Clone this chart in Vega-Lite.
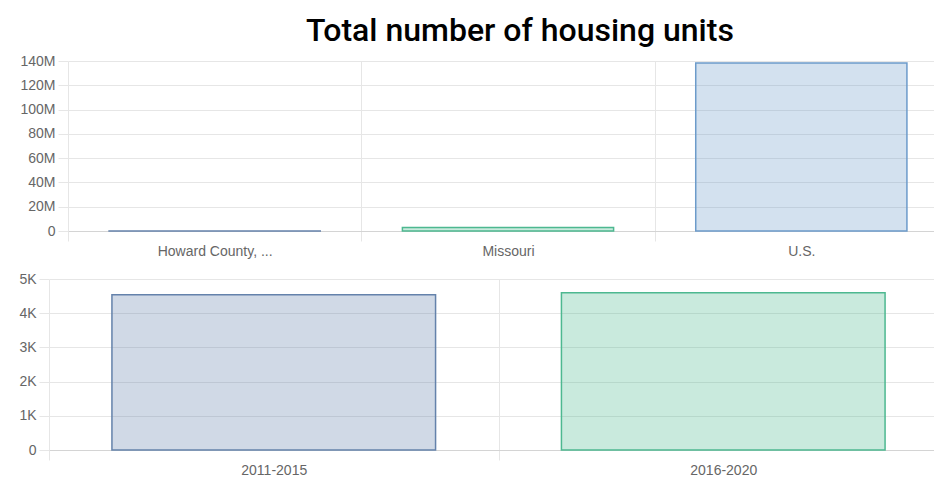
{
  "$schema": "https://vega.github.io/schema/vega-lite/v6.json",
  "padding": {"left": 18, "top": 15, "right": 0, "bottom": 0},
  "background": "white",
  "title": {"text": "Total number of housing units", "font": "Roboto", "fontSize": 32, "fontWeight": 500, "color": "#000000", "anchor": "middle", "offset": 6, "dx": 27},
  "config": {
    "view": {"stroke": null},
    "axis": {"labelFont": "Liberation Sans", "labelFontSize": 14, "labelColor": "#666666", "gridColor": "#e6e6e6", "tickColor": "#e6e6e6", "tickSize": 10, "labelPadding": 3, "domainColor": "#d4d4d4", "title": null},
    "axisY": {"domain": false, "grid": true},
    "axisX": {"grid": true, "labelAngle": 0}
  },
  "spacing": 14,
  "vconcat": [
    {
      "width": 880,
      "height": 170,
      "data": {"values": [
        {"area": "Howard County, Missouri", "units": 4600},
        {"area": "Missouri", "units": 2812208},
        {"area": "U.S.", "units": 138432751}
      ]},
      "mark": {"type": "bar", "fillOpacity": 0.3, "strokeWidth": 1.5, "width": {"band": 0.72}},
      "encoding": {
        "x": {"field": "area", "type": "nominal", "sort": null,
          "scale": {"paddingInner": 0, "paddingOuter": 0},
          "axis": {"tickBand": "extent", "labelExpr": "length(datum.label) > 16 ? slice(datum.label, 0, 14) + ' ...' : datum.label"}},
        "y": {"field": "units", "type": "quantitative",
          "scale": {"domain": [0, 140000000], "nice": false},
          "axis": {"values": [0, 20000000, 40000000, 60000000, 80000000, 100000000, 120000000, 140000000], "labelExpr": "datum.value == 0 ? '0' : format(datum.value, '~s')"}},
        "fill": {"field": "area", "type": "nominal", "legend": null,
          "scale": {"domain": ["Howard County, Missouri", "Missouri", "U.S."], "range": ["#6482ab", "#4db890", "#6c9bca"]}},
        "stroke": {"field": "area", "type": "nominal", "legend": null,
          "scale": {"domain": ["Howard County, Missouri", "Missouri", "U.S."], "range": ["#6482ab", "#4db890", "#6c9bca"]}}
      }
    },
    {
      "width": 880,
      "height": 171,
      "data": {"values": [
        {"period": "2011-2015", "units": 4540},
        {"period": "2016-2020", "units": 4600}
      ]},
      "mark": {"type": "bar", "fillOpacity": 0.3, "strokeWidth": 1.5, "width": {"band": 0.72}},
      "encoding": {
        "x": {"field": "period", "type": "nominal", "sort": null,
          "scale": {"paddingInner": 0, "paddingOuter": 0, "range": [-19, 880]},
          "axis": {"tickBand": "extent"}},
        "y": {"field": "units", "type": "quantitative",
          "scale": {"domain": [0, 5000], "nice": false},
          "axis": {"offset": 19, "values": [0, 1000, 2000, 3000, 4000, 5000], "labelExpr": "datum.value == 0 ? '0' : replace(format(datum.value, '~s'), 'k', 'K')"}},
        "fill": {"field": "period", "type": "nominal", "legend": null,
          "scale": {"domain": ["2011-2015", "2016-2020"], "range": ["#6482ab", "#4db890"]}},
        "stroke": {"field": "period", "type": "nominal", "legend": null,
          "scale": {"domain": ["2011-2015", "2016-2020"], "range": ["#6482ab", "#4db890"]}}
      }
    }
  ]
}
